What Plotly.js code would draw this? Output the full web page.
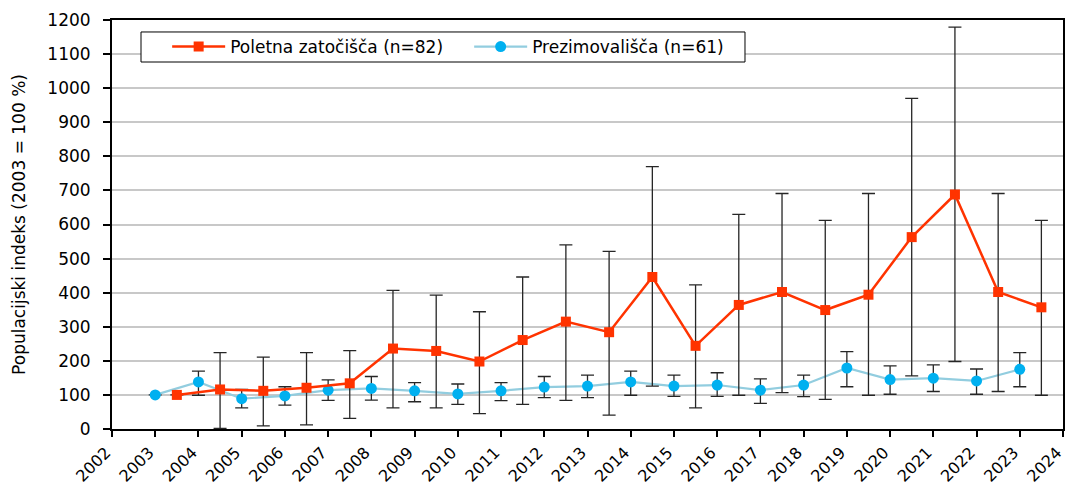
<!DOCTYPE html>
<html>
<head>
<meta charset="utf-8">
<script src="https://cdn.plot.ly/plotly-3.0.1.min.js"></script>
<style>
  html, body { margin: 0; padding: 0; background: #fff; }
  #chart { width: 1066px; height: 489px; }
</style>
</head>
<body>
<div id="chart"></div>
<script>
// Population index per year, 2003 = 100 %
const years = [2003, 2004, 2005, 2006, 2007, 2008, 2009, 2010, 2011, 2012, 2013,
               2014, 2015, 2016, 2017, 2018, 2019, 2020, 2021, 2022, 2023];

// Poletna zatočišča (summer roosts), n = 82
const summerIndex = [100, 116, 112, 121, 134, 236, 229, 198, 261, 315, 284,
                     446, 244, 364, 402, 349, 394, 563, 688, 402, 357];
const summerUpper = [null, 224, 211, 224, 230, 407, 393, 344, 446, 540, 521,
                     770, 423, 630, 691, 612, 691, 970, 1179, 691, 612];
const summerLower = [null, 2, 9, 12, 31, 62, 62, 45, 72, 84, 41,
                     126, 62, 99, 107, 87, 99, 156, 198, 110, 99];

// Prezimovališča (hibernation sites), n = 61
const winterIndex = [100, 138, 89, 97, 114, 119, 112, 103, 112, 123, 126,
                     138, 126, 129, 114, 129, 179, 145, 149, 141, 175];
const winterUpper = [null, 170, 116, 124, 144, 154, 136, 132, 136, 154, 158,
                     170, 158, 165, 147, 158, 227, 185, 188, 176, 224];
const winterLower = [null, 99, 62, 70, 84, 85, 80, 72, 83, 92, 92,
                     99, 96, 96, 75, 95, 124, 102, 110, 102, 124];

const seriesNames = ['Poletna zatočišča (n=82)', 'Prezimovališča (n=61)'];
const yTitle = 'Populacijski indeks (2003 = 100 %)';

const plus = (v, hi) => v.map((x, i) => hi[i] == null ? 0 : hi[i] - x);
const minus = (v, lo) => v.map((x, i) => lo[i] == null ? 0 : x - lo[i]);

const font = '"DejaVu Sans", Verdana, sans-serif';
const errStyle = { type: 'data', symmetric: false, color: '#262626', thickness: 1.3, width: 6.5 };

// summer points sit half a year to the right of the year tick
const summerX = years.map(y => y + 0.5);

const traces = [
  {
    x: years, y: winterIndex, name: seriesNames[1], type: 'scatter', mode: 'lines+markers',
    line: { color: '#92CDDF', width: 2.2 },
    marker: { color: '#00B0F0', size: 11, symbol: 'circle' },
    error_y: Object.assign({}, errStyle, { array: plus(winterIndex, winterUpper), arrayminus: minus(winterIndex, winterLower) })
  },
  {
    x: summerX, y: summerIndex, name: seriesNames[0], type: 'scatter', mode: 'lines+markers',
    line: { color: '#FF3300', width: 2.5 },
    marker: { color: '#FF3300', size: 10, symbol: 'square' },
    error_y: Object.assign({}, errStyle, { array: plus(summerIndex, summerUpper), arrayminus: minus(summerIndex, summerLower) })
  }
];

const layout = {
  width: 1066, height: 489,
  margin: { l: 112, r: 3, t: 20, b: 60 },
  paper_bgcolor: '#fff', plot_bgcolor: '#fff',
  font: { family: font, size: 17, color: '#000' },
  showlegend: true,
  legend: {
    orientation: 'h', x: 0.058, y: 0.978, xanchor: 'left', yanchor: 'top',
    traceorder: 'reversed',
    bgcolor: 'rgba(0,0,0,0)', borderwidth: 0,
    font: { family: font, size: 17, color: '#000' },
    itemwidth: 53,
    entrywidth: 234, entrywidthmode: 'pixels'
  },
  // legend frame
  shapes: [{
    type: 'rect', xref: 'paper', yref: 'paper', layer: 'above',
    x0: 0.0305, x1: 0.6656, y0: 0.8973, y1: 0.9707,
    fillcolor: '#fff', line: { color: '#000', width: 1 }
  }],
  xaxis: {
    range: [2002, 2024.0001], dtick: 1, tick0: 2002, tickangle: -45,
    showgrid: false, zeroline: false,
    showline: true, linecolor: '#000', linewidth: 2, mirror: true,
    ticks: 'outside', ticklen: 6, tickwidth: 2, tickcolor: '#000',
    ticklabeloverflow: 'allow', ticklabelshift: -6,
    tickfont: { family: font, size: 16 }
  },
  yaxis: {
    range: [0, 1200], dtick: 100,
    showgrid: true, gridcolor: '#C8C8C8', gridwidth: 2, zeroline: false,
    showline: true, linecolor: '#000', linewidth: 2, mirror: true,
    ticks: 'outside', ticklen: 7, tickwidth: 2, tickcolor: '#000',
    ticklabelstandoff: 9,
    tickfont: { family: font, size: 17 },
    title: { text: yTitle, font: { family: font, size: 17 }, standoff: 17 }
  }
};

Plotly.newPlot('chart', traces, layout, { displayModeBar: false, staticPlot: true });
</script>
</body>
</html>
